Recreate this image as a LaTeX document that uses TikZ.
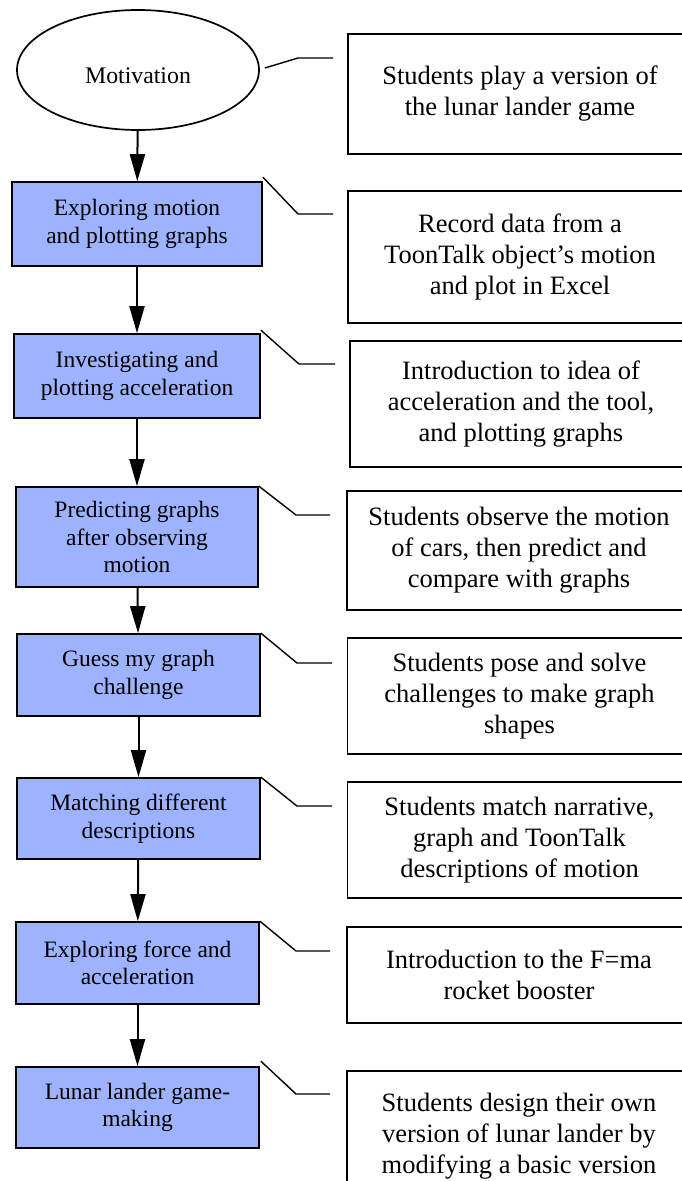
\documentclass[tikz,border=0pt]{standalone}
\usepackage{fontspec}
\setmainfont{Liberation Serif}
\usetikzlibrary{arrows.meta,shapes.geometric}
\definecolor{stageblue}{RGB}{158,179,255}
\tikzset{
  stage/.style={draw,line width=1.7pt,fill=stageblue,align=center,minimum width=243pt,minimum height=82pt,inner sep=2pt,font=\fontsize{23.5}{27.5}\selectfont},
  activity/.style={draw,line width=1.7pt,align=center,minimum width=344pt,inner sep=2pt,font=\fontsize{26.5}{31}\selectfont},
  flow/.style={line width=2pt,-{Triangle[length=27pt,width=15pt]}},
  callout/.style={line width=1.4pt}
}
\begin{document}
\begin{tikzpicture}[x=1pt,y=-1pt]
    \useasboundingbox (0,0) rectangle (682,1181);
    % stages
    \node[ellipse,draw,line width=1.7pt,minimum width=242pt,minimum height=120pt,font=\fontsize{23.8}{27.5}\selectfont] (motiv) at (138,70) {\raisebox{-5pt}[17pt][0pt]{Motivation}};
    \node[stage,minimum width=250pt,minimum height=84pt] (explore) at (137,224) {Exploring motion\\and plotting graphs};
    \node[stage,minimum width=246pt,minimum height=84pt] (invest) at (137,376) {Investigating and\\plotting acceleration};
    \node[stage,minimum width=242pt,minimum height=100pt] (predict) at (137,537) {Predicting graphs\\after observing\\motion};
    \node[stage] (guess) at (138.5,675) {Guess my graph\\challenge};
    \node[stage,minimum height=81pt] (match) at (138.5,818.5) {Matching different\\descriptions};
    \node[stage] (force) at (137.5,963) {Exploring force and\\acceleration};
    \node[stage,minimum height=81pt] (lander) at (137.5,1107.5) {Lunar lander game-\\making};
    % activities
    \node[activity,minimum height=120pt] (play) at (520,94) {Students play a version of\\the lunar lander game};
    \node[activity,minimum height=132pt] (record) at (520,257) {Record data from a\\ToonTalk object’s motion\\and plot in Excel};
    \node[activity,minimum width=342pt,minimum height=126pt] (intro) at (521,404) {Introduction to idea of\\acceleration and the tool,\\and plotting graphs};
    \node[activity,minimum height=119pt] (observe) at (519,550.5) {Students observe the motion\\of cars, then predict and\\compare with graphs};
    \node[activity,minimum height=116pt] (pose) at (519.5,696) {Students pose and solve\\challenges to make graph\\shapes};
    \node[activity,minimum height=116pt] (narr) at (519.5,840) {Students match narrative,\\graph and ToonTalk\\descriptions of motion};
    \node[activity,minimum height=96pt] (booster) at (519,975) {Introduction to the F=ma\\rocket booster};
    \node[activity,minimum height=130pt] (design) at (519,1136) {Students design their own\\version of lunar lander by\\modifying a basic version};
    % callout ends
    \coordinate (e1) at (333,58);
    \coordinate (e2) at (333,214);
    \coordinate (e3) at (335,364);
    \coordinate (e4) at (330,515);
    \coordinate (e5) at (332,663);
    \coordinate (e6) at (332,806);
    \coordinate (e7) at (330,951);
    \coordinate (e8) at (330,1094);
    % flow
    \draw[flow] (motiv) -- (explore);
    \draw[flow] (explore) -- (invest);
    \draw[flow] (invest) -- (predict);
    \draw[flow] (predict) -- (guess);
    \draw[flow] (guess) -- (match);
    \draw[flow] (match) -- (force);
    \draw[flow] (force) -- (lander);
    % callouts
    \draw[callout] ([shift={(5,-2)}]motiv.east) -- ([xshift=-35pt]e1) -- (e1);
    \draw[callout] ([yshift=4pt]explore.north east) -- ([xshift=-35pt]e2) -- (e2);
    \draw[callout] ([yshift=3pt]invest.north east) -- ([xshift=-36pt]e3) -- (e3);
    \draw[callout] (predict.north east) -- ([xshift=-34pt]e4) -- (e4);
    \draw[callout] (guess.north east) -- ([xshift=-35pt]e5) -- (e5);
    \draw[callout] (match.north east) -- ([xshift=-35pt]e6) -- (e6);
    \draw[callout] (force.north east) -- ([xshift=-34pt]e7) -- (e7);
    \draw[callout] ([shift={(1,-5)}]lander.north east) -- ([xshift=-34pt]e8) -- (e8);
\end{tikzpicture}
\end{document}
